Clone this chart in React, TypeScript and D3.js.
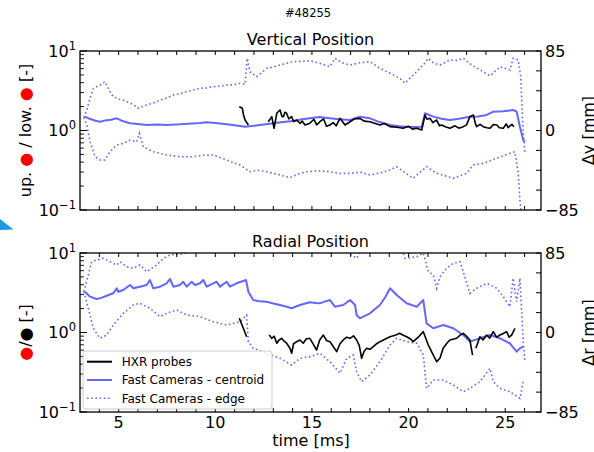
import React from "react";
import * as d3 from "d3";

// ---------------- data (time [ms], displacement [mm]) ----------------
const vCentroid: [number, number][] = [[3.26,14.8],[3.5,12.5],[3.8,10.5],[4.03,9.4],[4.3,10.8],[4.6,11.5],[4.9,13.0],[5.1,11.0],[5.3,9.5],[5.59,7.7],[6.0,7.0],[6.45,5.9],[7.0,6.3],[7.5,6.0],[8.17,6.6],[8.8,7.5],[9.2,8.0],[9.55,8.8],[10.0,8.0],[10.59,6.6],[11.0,5.5],[11.54,4.1],[12.0,5.0],[12.31,5.9],[13.0,7.7],[13.5,9.0],[14.03,10.2],[14.5,12.0],[14.89,13.0],[15.4,14.5],[15.93,13.0],[16.4,12.0],[16.97,11.2],[17.48,14.8],[18.0,13.0],[18.5,9.0],[19.04,5.9],[19.5,4.5],[19.9,4.1],[20.3,3.8],[20.68,4.1],[20.85,18.4],[21.28,14.8],[21.7,12.5],[22.14,11.2],[22.6,12.5],[23.17,14.8],[23.6,15.0],[24.04,16.6],[24.38,20.1],[24.9,20.5],[25.41,21.9],[25.59,20.1],[25.76,4.1],[25.93,-10.2],[26.02,-12.0]];
const vEdgeUp: [number, number][] = [[3.2,14.0],[3.35,22],[3.52,34.7],[3.69,45.1],[4.03,48.6],[4.29,52.2],[4.55,41.5],[4.72,36.1],[5.0,33.5],[5.24,32.6],[5.59,29.4],[5.8,27.0],[6.02,23.7],[6.45,27.3],[6.8,29.5],[7.14,32.6],[7.5,35],[7.83,38.0],[8.2,39.5],[8.52,41.5],[8.9,43.5],[9.21,45.1],[9.55,45.5],[9.9,46.8],[10.25,47.5],[10.59,48.6],[10.95,49.0],[11.28,50.5],[11.54,49.4],[11.65,77.2],[11.79,62.9],[12.14,57.5],[12.4,62],[12.66,66.5],[13.0,68],[13.35,70.0],[13.7,72],[14.03,73.6],[14.45,74.0],[14.89,74.5],[15.4,72.0],[15.93,68.2],[16.19,77.2],[16.55,72.5],[16.97,70.0],[17.5,72.5],[18.0,73.6],[18.52,66.5],[19.04,61.2],[19.55,55.8],[19.81,50.5],[20.24,59.3],[20.76,70.0],[21.02,77.2],[21.3,72],[21.62,70.0],[22.14,75.4],[22.5,75],[22.83,77.2],[23.26,70.0],[23.86,62.9],[24.21,58.3],[24.73,68.2],[25.24,64.7],[25.41,77.2],[25.67,75.4],[25.8,57.5],[25.93,-2.7],[26.02,-24.1]];
const vEdgeLow: [number, number][] = [[3.2,14.0],[3.35,5.9],[3.52,-12.0],[3.78,-28.0],[4.03,-31.5],[4.29,-31.5],[4.55,-22.7],[4.9,-15.5],[5.24,-13.7],[5.59,-10.2],[5.93,-12.0],[6.07,-3.0],[6.27,-17.3],[6.79,-22.7],[7.48,-26.2],[8.17,-28.0],[8.86,-28.0],[9.4,-26.5],[9.9,-26.2],[10.59,-31.5],[11.28,-36.9],[11.79,-44.1],[12.2,-42.5],[12.66,-44.1],[13.35,-47.6],[13.86,-50.5],[14.3,-46.5],[14.73,-44.1],[15.3,-43.0],[15.93,-44.1],[16.45,-46.0],[16.97,-45.8],[17.5,-44.5],[18.0,-47.6],[18.5,-45.5],[19.04,-42.2],[19.38,-38.7],[19.8,-45],[20.24,-51.1],[20.93,-38.7],[21.45,-45.8],[21.9,-48.5],[22.31,-51.1],[23.0,-45.8],[23.35,-36.9],[23.86,-35.1],[24.56,-29.7],[25.24,-24.4],[25.5,-22.7],[25.67,-45.4],[25.76,-74.3],[25.85,-95]];
const vHxr1: [number, number][] = [[11.24,25.4],[11.4,23.7],[11.46,16.6],[11.54,11.2],[11.71,5.9]];
const vHxr2: [number, number][] = [[12.74,9.4],[12.83,12.0],[12.92,14.8],[13.04,2.4],[13.18,18.4],[13.35,21.9],[13.45,15.0],[13.52,14.8],[13.6,19.5],[13.69,18.4],[13.8,12.5],[13.95,14.8],[14.05,9.5],[14.21,11.2],[14.38,7.7],[14.5,10.0],[14.64,5.9],[14.89,7.7],[15.1,12.0],[15.25,6.0],[15.41,9.4],[15.6,12.5],[15.75,4.5],[15.93,5.9],[16.1,8.5],[16.25,5.0],[16.45,13.0],[16.6,9.0],[16.71,5.9],[16.97,9.4],[17.2,12.5],[17.48,13.0],[17.7,10.0],[18.0,9.4],[18.2,8.0],[18.52,5.9],[18.75,7.5],[19.04,4.1],[19.4,3.5],[19.72,2.4],[20.0,4.5],[20.2,1.5],[20.42,2.4],[20.68,0.5],[20.85,16.6],[20.95,12.0],[21.11,13.0],[21.25,8.5],[21.45,11.2],[21.6,5.0],[21.71,5.9],[21.9,4.0],[22.14,2.4],[22.4,5.0],[22.6,2.5],[22.83,4.1],[23.0,6.0],[23.17,14.8],[23.35,16.6],[23.45,8.0],[23.52,4.1],[23.7,6.5],[23.86,4.1],[24.05,3.0],[24.21,2.4],[24.4,6.5],[24.56,5.9],[24.7,3.0],[24.9,2.4],[25.05,7.0],[25.15,3.0],[25.24,4.8],[25.35,6.5],[25.45,4.1]];

const rCentroid: [number, number][] = [[3.26,43.6],[3.52,38.3],[3.86,35.8],[4.1,37],[4.38,39.3],[4.72,41.9],[4.9,47.3],[4.98,43.6],[5.24,45.4],[5.59,50.8],[5.76,47.3],[6.1,49.0],[6.45,50.8],[6.62,56.1],[6.79,47.3],[7.14,49.0],[7.48,52.6],[7.66,57.2],[7.83,49.0],[8.17,50.8],[8.34,54.3],[8.52,49.0],[8.78,54.3],[8.95,50.8],[9.21,52.6],[9.38,56.1],[9.55,49.0],[9.9,52.6],[10.07,54.3],[10.24,49.0],[10.59,54.3],[10.76,49.0],[11.1,52.6],[11.59,56.1],[11.71,43.6],[11.96,34.7],[12.3,33.5],[12.66,32.9],[13.0,31],[13.35,29.4],[13.7,27.5],[13.95,25.9],[14.38,29.4],[14.89,32.3],[15.2,31.5],[15.41,31.2],[15.65,33],[15.93,34.7],[16.19,27.6],[16.62,29.4],[16.97,34.7],[17.23,29.4],[17.31,18.7],[17.48,15.2],[18.0,20.5],[18.52,29.4],[18.8,38],[19.04,47.3],[19.38,40.1],[19.9,31.2],[20.42,27.6],[20.76,34.7],[20.93,9.8],[21.28,4.5],[21.79,8.0],[22.31,4.5],[22.83,-2.7],[23.17,-9.8],[23.69,-6.2],[24.21,-2.7],[24.73,-6.2],[25.24,-11.5],[25.59,-20.5],[25.76,-16.9],[25.93,-15.2]];
const rEdgeUp: [number, number][] = [[3.2,43.6],[3.43,61.5],[3.6,75.7],[3.86,77.5],[4.21,79.3],[4.55,75.7],[4.9,72.2],[5.07,75.7],[5.42,70.4],[5.76,68.6],[6.1,72.2],[6.45,65.0],[6.97,72.2],[7.31,79.3],[7.66,82.9],[8.17,83.6],[8.7,86],[9.21,85.5],[9.8,88],[10.4,86.5],[11.0,89],[11.6,87],[11.96,86.4],[12.5,90],[13.0,88],[13.5,92],[14.0,87],[14.5,91],[15.0,89],[15.6,93],[16.2,88],[16.8,86],[17.31,79.3],[17.48,85],[18.2,90],[19.0,88],[19.72,85],[19.81,79.3],[20.42,81.0],[20.76,85],[21.02,65.0],[21.28,61.5],[21.45,47.3],[21.62,59.7],[21.97,68.6],[22.31,74.0],[22.66,75.7],[22.83,65.0],[23.17,41.9],[23.52,47.3],[24.04,52.6],[24.56,47.3],[24.9,38.3],[25.24,27.6],[25.41,58.0],[25.59,32.9],[25.76,58.0],[25.93,-9.8],[26.02,-31.2]];
const rEdgeLow: [number, number][] = [[3.2,43.6],[3.43,25.9],[3.69,4.5],[4.03,-6.2],[4.38,-2.7],[4.72,8.0],[5.24,20.5],[5.76,29.4],[6.1,31.2],[6.62,25.9],[7.14,16.9],[7.48,20.5],[8.0,24.1],[8.52,18.7],[9.21,16.9],[9.9,11.5],[10.59,8.0],[11.28,11.5],[11.62,18.7],[11.71,-9.8],[11.96,-16.9],[12.66,-22.2],[13.35,-27.6],[13.95,-34.7],[14.38,-27.6],[14.89,-25.9],[15.41,-22.2],[15.93,-31.2],[16.45,-43.6],[16.8,-27.6],[17.14,-24.1],[17.31,-41.9],[17.57,-52.6],[18.0,-45.4],[18.52,-31.2],[19.04,-13.4],[19.38,-6.2],[19.9,-9.8],[20.42,-11.5],[20.76,-24.1],[20.93,-59.7],[21.28,-50.8],[21.79,-50.8],[22.31,-56.1],[22.83,-63.3],[23.17,-59.7],[23.69,-52.6],[24.21,-38.3],[24.38,-52.6],[24.73,-59.7],[25.24,-63.3],[25.76,-70.4],[25.93,-52.6]];
const rHxr1: [number, number][] = [[11.24,15.2],[11.45,4.5],[11.62,-4.5]];
const rHxr2: [number, number][] = [[12.79,-2.7],[12.92,-6.2],[13.05,-4.0],[13.18,-11.5],[13.3,-8.0],[13.43,-6.2],[13.55,-9.0],[13.69,-11.5],[13.86,-16.9],[13.95,-22.2],[14.05,-12.0],[14.21,-9.8],[14.38,-8.0],[14.55,-11.5],[14.7,-7.0],[14.89,-6.2],[15.05,-12.0],[15.24,-18.7],[15.4,-8.0],[15.59,-2.7],[15.75,-8.5],[15.93,-9.8],[16.1,-15.0],[16.28,-20.5],[16.45,-12.0],[16.62,-8.0],[16.8,-5.0],[16.97,-6.2],[17.15,-3.5],[17.31,-8.0],[17.45,-14.0],[17.57,-27.6],[17.7,-20.0],[17.83,-16.9],[18.0,-18.0],[18.17,-15.2],[18.35,-12.0],[18.52,-9.8],[18.8,-7.0],[19.04,-4.5],[19.3,-3.0],[19.55,-0.9],[19.72,-3.0],[19.9,-4.5],[20.1,-7.0],[20.24,-9.8],[20.5,-5.0],[20.76,0.9],[21.02,-13.4],[21.28,-24.1],[21.45,-31.2],[21.62,-27.6],[21.79,-16.9],[22.0,-11.0],[22.14,-8.0],[22.49,-6.2],[22.65,-3.0],[22.83,-0.9],[23.0,-4.0],[23.17,-8.0],[23.31,-24.1]];
const rHxr3: [number, number][] = [[23.48,-16.9],[23.69,-4.5],[23.85,-8.0],[24.04,-2.7],[24.2,-6.0],[24.38,0.9],[24.55,-5.0],[24.73,-2.7],[24.9,-1.0],[25.07,0.9],[25.2,-5.0],[25.33,-2.7],[25.5,4.5]];

const xMinorTicks = [4,5,6,7,8,9,10,11,12,13,14,15,16,17,18,19,20,21,22,23,24,25,26];
const xTickLabels = [5, 10, 15, 20, 25];
const logMajor = [0.1, 1, 10];
const logMinor = [0.2,0.3,0.4,0.5,0.6,0.7,0.8,0.9,2,3,4,5,6,7,8,9];
const rightTicks = [-85,-63.75,-42.5,-21.25,0,21.25,42.5,63.75,85];
const rightTickLabels = [-85, 0, 85];
const legendLabels = ["HXR probes", "Fast Cameras - centroid", "Fast Cameras - edge"];

// ---------------- layout ----------------
const W = 594, H = 452;
const X0 = 80, X1 = 541;
const FONT = "DejaVu Sans, sans-serif";
const BLUE = "#6666ff";

const x = d3.scaleLinear().domain([3.0, 26.85]).range([X0, X1]);

const fmtMinus = (v: number) => (v < 0 ? "\u2212" + Math.abs(v) : String(v));

type Panel = {
  top: number; bottom: number; title: string;
  centroid: [number, number][]; up: [number, number][]; low: [number, number][];
  hxr: [number, number][][];
  leftLabel: React.ReactNode; rightLabel: string; id: string;
  xLabels: boolean; legend: boolean;
};

function PanelView(p: Panel) {
  const yR = d3.scaleLinear().domain([-85, 85]).range([p.bottom, p.top]);
  const yL = d3.scaleLog().domain([0.1, 10]).range([p.bottom, p.top]);
  const line = d3.line<[number, number]>().x(d => x(d[0])).y(d => yR(d[1]));
  const cy = (p.top + p.bottom) / 2;
  const expo = (v: number) => (v === 10 ? "1" : v === 1 ? "0" : "\u22121");
  return (
    <g>
      <defs>
        <clipPath id={"clip" + p.id}>
          <rect x={X0} y={p.top} width={X1 - X0} height={p.bottom - p.top} />
        </clipPath>
      </defs>
      <text x={(X0 + X1) / 2} y={p.top - 6} textAnchor="middle" fontSize={16} fontFamily={FONT}>{p.title}</text>
      <g clipPath={`url(#clip${p.id})`} fill="none">
        <path d={line(p.up) || ""} stroke={BLUE} strokeWidth={1.6} strokeDasharray="1.6 2.6" />
        <path d={line(p.low) || ""} stroke={BLUE} strokeWidth={1.6} strokeDasharray="1.6 2.6" />
        <path d={line(p.centroid) || ""} stroke={BLUE} strokeWidth={2} strokeLinejoin="round" />
        {p.hxr.map((s, i) => (
          <path key={i} d={line(s) || ""} stroke="#000" strokeWidth={1.6} strokeLinejoin="round" />
        ))}
      </g>
      {xMinorTicks.map(t => (
        <g key={"xt" + t} stroke="#000" strokeWidth={1}>
          <line x1={x(t)} x2={x(t)} y1={p.bottom} y2={p.bottom - 4} />
          <line x1={x(t)} x2={x(t)} y1={p.top} y2={p.top + 4} />
        </g>
      ))}
      {logMajor.map(v => (
        <line key={"lm" + v} x1={X0} x2={X0 + 7} y1={yL(v)} y2={yL(v)} stroke="#000" strokeWidth={1} />
      ))}
      {logMinor.map(v => (
        <line key={"ln" + v} x1={X0} x2={X0 + 4} y1={yL(v)} y2={yL(v)} stroke="#000" strokeWidth={0.9} />
      ))}
      {logMajor.map(v => (
        <text key={"ll" + v} x={X0 - 4} y={yL(v) + 5.5} textAnchor="end" fontSize={16} fontFamily={FONT}>
          10<tspan dy={-7} fontSize={11.5}>{expo(v)}</tspan>
        </text>
      ))}
      {rightTicks.map(v => (
        <line key={"rt" + v} x1={X1} x2={X1 - 5} y1={yR(v)} y2={yR(v)} stroke="#000" strokeWidth={1} />
      ))}
      {rightTickLabels.map(v => (
        <text key={"rl" + v} x={X1 + 4} y={yR(v) + 5.5} fontSize={16} fontFamily={FONT}>{fmtMinus(v)}</text>
      ))}
      {p.xLabels && xTickLabels.map(t => (
        <text key={"xl" + t} x={x(t)} y={p.bottom + 15.5} textAnchor="middle" fontSize={16} fontFamily={FONT}>{t}</text>
      ))}
      <rect x={X0} y={p.top} width={X1 - X0} height={p.bottom - p.top} fill="none" stroke="#000" strokeWidth={1.3} />
      <text transform={`translate(31,${cy}) rotate(-90)`} textAnchor="middle" fontSize={16} fontFamily={FONT}>{p.leftLabel}</text>
      <text transform={`translate(594,${cy}) rotate(-90)`} textAnchor="middle" fontSize={16} fontFamily={FONT}>{p.rightLabel}</text>
      {p.legend && (
        <g fontFamily={FONT} fontSize={12}>
          <rect x={83} y={351} width={189} height={58} rx={3} fill="#fff" fillOpacity={0.8} stroke="#cccccc" strokeWidth={1} />
          {legendLabels.map((lab, i) => {
            const ly = 361.7 + i * 18.3;
            return (
              <g key={lab}>
                <line x1={87} x2={112} y1={ly} y2={ly}
                  stroke={i === 0 ? "#000" : BLUE} strokeWidth={i === 2 ? 1.6 : 2}
                  strokeDasharray={i === 2 ? "1.6 2.6" : undefined} />
                <text x={121.7} y={ly + 4.3}>{lab}</text>
              </g>
            );
          })}
        </g>
      )}
    </g>
  );
}

export default function App() {
  return (
    <svg width={W} height={H} style={{ position: "absolute", left: 0, top: 0, background: "#fff" }}>
      <rect x={0} y={0} width={W} height={H} fill="#fff" />
      <text x={308} y={17} textAnchor="middle" fontSize={11.5} fontFamily={FONT}>#48255</text>
      <PanelView id="v" top={51} bottom={210} title="Vertical Position"
        centroid={vCentroid} up={vEdgeUp} low={vEdgeLow} hxr={[vHxr1, vHxr2]}
        leftLabel={<>up. <tspan fill="red">●</tspan> / low. <tspan fill="red">●</tspan> [-]</>}
        rightLabel="Δy [mm]" xLabels={false} legend={false} />
      <PanelView id="r" top={253} bottom={412} title="Radial Position"
        centroid={rCentroid} up={rEdgeUp} low={rEdgeLow} hxr={[rHxr1, rHxr2, rHxr3]}
        leftLabel={<><tspan fill="red">●</tspan>/● [-]</>}
        rightLabel="Δr [mm]" xLabels={true} legend={true} />
      <text x={311} y={446} textAnchor="middle" fontSize={16} fontFamily={FONT}>time [ms]</text>
      <polygon points="0,219 13.5,229.5 0,230" fill="#1e9be0" />
    </svg>
  );
}
